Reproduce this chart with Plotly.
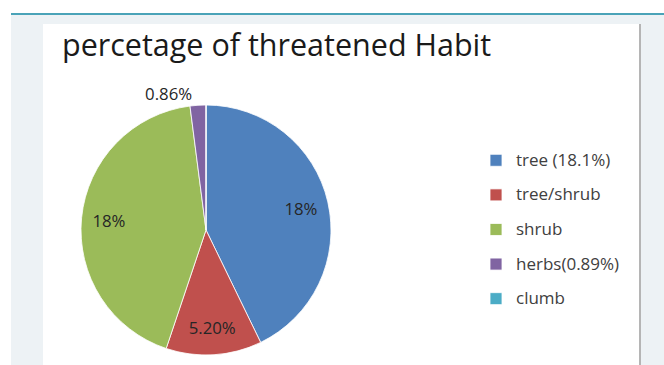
import plotly.graph_objects as go

labels = ["tree (18.1%)", "tree/shrub", "shrub", "herbs(0.89%)", "clumb"]
values = [18, 5.2, 18, 0.86, 0]
slice_text = ["18%", "5.20%", "18%", "0.86%", ""]
colors = ["#4F81BD", "#C0504D", "#9BBB59", "#8064A2", "#4BACC6"]
text_pos = ["inside", "inside", "inside", "outside", "none"]

W, H = 664, 365
def px(x): return x / W
def py(y): return 1 - y / H

pie_domain = dict(x=[px(78), px(334)], y=[py(355), py(105)])
legend_labels = [f"<span style='font-size:17px;baseline-shift:4px'>{l}</span>" for l in labels]

# filled pie (colours + legend)
fig = go.Figure(go.Pie(
    labels=legend_labels,
    values=values,
    textinfo="none",
    sort=False,
    direction="clockwise",
    rotation=0,
    marker=dict(colors=colors, line=dict(color="white", width=0.8)),
    domain=pie_domain,
    showlegend=True,
    hoverinfo="skip",
))
# transparent ring on top that carries the data labels near the rim
fig.add_trace(go.Pie(
    labels=legend_labels,
    values=values,
    text=slice_text,
    textinfo="text",
    textposition=text_pos,
    insidetextorientation="horizontal",
    hole=0.56,
    sort=False,
    direction="clockwise",
    rotation=0,
    marker=dict(colors=["rgba(0,0,0,0)"] * len(values), line=dict(width=0)),
    textfont=dict(family="Open Sans", size=16.8, color="#262626"),
    domain=pie_domain,
    showlegend=False,
    hoverinfo="skip",
))

shapes = [
    dict(type="rect", xref="paper", yref="paper", x0=px(11), x1=1, y0=0, y1=py(14),
         fillcolor="#EDF2F5", line=dict(width=0), layer="below"),
    dict(type="rect", xref="paper", yref="paper", x0=px(43), x1=px(639), y0=0, y1=py(24),
         fillcolor="white", line=dict(width=0), layer="below"),
    dict(type="line", xref="paper", yref="paper", x0=px(11), x1=1, y0=py(14), y1=py(14),
         line=dict(color="#4AA3B8", width=2), layer="below"),
    dict(type="line", xref="paper", yref="paper", x0=px(640), x1=px(640), y0=0, y1=py(24),
         line=dict(color="#B5B5B5", width=2), layer="below"),
]

fig.update_layout(
    width=W, height=H,
    margin=dict(l=0, r=0, t=0, b=0),
    paper_bgcolor="white",
    plot_bgcolor="white",
    shapes=shapes,
    title=dict(text="percetage of threatened Habit", x=px(62), xanchor="left",
               y=py(56), yanchor="bottom",
               font=dict(family="Open Sans", size=30.5, color="#1A1A1A")),
    legend=dict(x=px(476), xanchor="left", y=py(138), yanchor="top",
                font=dict(family="Open Sans", size=24.3, color="#404040"),
                bgcolor="rgba(0,0,0,0)", traceorder="normal"),
)

fig.write_html("out.html")
